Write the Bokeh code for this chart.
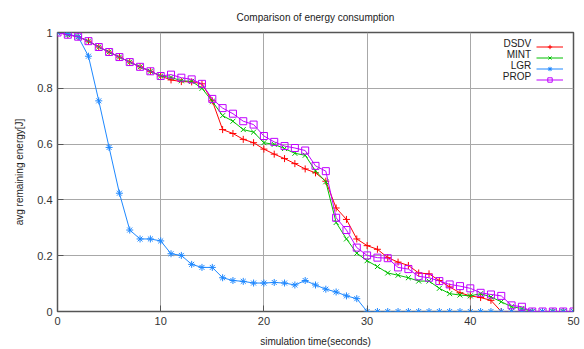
from bokeh.plotting import figure
from bokeh.models import (ColumnDataSource, Legend, LegendItem, Label, FixedTicker,
                          NumeralTickFormatter, Range1d)
from bokeh.embed import file_html
from bokeh.resources import INLINE

time_s = list(range(0, 51))

dsdv = [1.0, 0.992, 0.985, 0.969, 0.948, 0.930, 0.912, 0.894, 0.877, 0.861, 0.844,
        0.830, 0.824, 0.823, 0.816, 0.755, 0.652, 0.638, 0.617, 0.605, 0.582,
        0.564, 0.548, 0.530, 0.511, 0.497, 0.467, 0.371, 0.330, 0.260, 0.236,
        0.223, 0.193, 0.177, 0.165, 0.138, 0.135, 0.111, 0.088, 0.067, 0.056,
        0.050, 0.040, 0.0, 0.0, 0.0, 0.0, 0.0, 0.0, 0.0, 0.0]

mint = [1.0, 0.992, 0.985, 0.969, 0.948, 0.930, 0.912, 0.894, 0.877, 0.861, 0.844,
        0.839, 0.827, 0.825, 0.800, 0.753, 0.702, 0.682, 0.652, 0.643, 0.605,
        0.599, 0.584, 0.567, 0.560, 0.504, 0.465, 0.319, 0.260, 0.209, 0.182,
        0.161, 0.138, 0.130, 0.121, 0.109, 0.109, 0.083, 0.064, 0.059, 0.056,
        0.064, 0.052, 0.035, 0.017, 0.011, 0.0, 0.0, 0.0, 0.0, 0.0]

lgr = [1.0, 0.995, 0.985, 0.915, 0.755, 0.588, 0.424, 0.292, 0.260, 0.260, 0.253,
       0.207, 0.201, 0.169, 0.158, 0.158, 0.121, 0.111, 0.108, 0.102, 0.102,
       0.104, 0.102, 0.095, 0.111, 0.095, 0.080, 0.070, 0.056, 0.046, 0.0,
       0.0, 0.0, 0.0, 0.0, 0.0, 0.0, 0.0, 0.0, 0.0, 0.0,
       0.0, 0.0, 0.0, 0.0, 0.0, 0.0, 0.0, 0.0, 0.0, 0.0]

prop = [1.0, 0.992, 0.985, 0.969, 0.948, 0.930, 0.912, 0.894, 0.877, 0.861, 0.844,
        0.849, 0.838, 0.832, 0.816, 0.762, 0.729, 0.709, 0.682, 0.670, 0.629,
        0.608, 0.593, 0.586, 0.577, 0.522, 0.503, 0.336, 0.292, 0.229, 0.201,
        0.193, 0.191, 0.158, 0.152, 0.126, 0.121, 0.109, 0.097, 0.091, 0.083,
        0.067, 0.061, 0.056, 0.022, 0.017, 0.0, 0.0, 0.0, 0.0, 0.0]

series_names = ["DSDV", "MINT", "LGR", "PROP"]
series_values = [dsdv, mint, lgr, prop]
series_colors = ["#ff0000", "#00c000", "#1e88ff", "#c000ff"]
series_markers = ["cross", "x", "asterisk", "square"]

x_ticks = [0, 10, 20, 30, 40, 50]
y_ticks = [0, 0.2, 0.4, 0.6, 0.8, 1.0]

title_text = "Comparison of energy consumption"
x_label = "simulation time(seconds)"
y_label = "avg remaining energy[J]"

FONT = "Liberation Sans"

p = figure(width=584, height=349, output_backend="svg", toolbar_location=None,
           x_range=Range1d(0, 50), y_range=Range1d(0, 1),
           min_border_left=57, min_border_right=11, min_border_top=32,
           min_border_bottom=35, title=title_text)

p.title.align = "center"
p.title.text_font = FONT
p.title.text_font_size = "10px"
p.title.text_font_style = "normal"
p.title.text_color = "#222222"
p.title.standoff = 19

p.outline_line_color = "#555555"
p.outline_line_width = 1.5
p.background_fill_color = "white"
p.border_fill_color = "white"

for ax in p.axis:
    ax.axis_line_color = None
    ax.major_tick_in = 6
    ax.major_tick_out = 0
    ax.major_tick_line_color = "#555555"
    ax.minor_tick_line_color = None
    ax.major_label_text_font = FONT
    ax.major_label_text_font_size = "11px"
    ax.major_label_text_color = "#333333"
    ax.axis_label_text_font = FONT
    ax.axis_label_text_font_size = "10px"
    ax.axis_label_text_font_style = "normal"
    ax.axis_label_text_color = "#222222"

p.xaxis.ticker = FixedTicker(ticks=x_ticks)
p.yaxis.ticker = FixedTicker(ticks=y_ticks)
p.yaxis.formatter = NumeralTickFormatter(format="0[.]0")
p.xaxis.axis_label = x_label
p.yaxis.axis_label = y_label
p.xaxis.major_label_standoff = 5
p.xaxis.axis_label_standoff = 8
p.yaxis.major_label_standoff = 5
p.yaxis.axis_label_standoff = 9

p.xgrid.ticker = FixedTicker(ticks=x_ticks)
p.ygrid.ticker = FixedTicker(ticks=y_ticks)
p.grid.grid_line_color = "#a8a8a8"
p.grid.grid_line_width = 1

source = ColumnDataSource(dict(t=time_s, **{n: v for n, v in zip(series_names, series_values)}))

items = []
for name, color, marker in zip(series_names, series_colors, series_markers):
    ln = p.line("t", name, source=source, line_color=color, line_width=1)
    sc = p.scatter("t", name, source=source, marker=marker, size=7,
                   line_color=color, fill_color=None, line_width=1)
    items.append(LegendItem(label=" ", renderers=[ln, sc]))

# legend samples (line + marker), texts are added separately to their left
legend = Legend(items=items, location=(479, 226), orientation="vertical",
                glyph_width=27, glyph_height=11, spacing=0, padding=0, margin=0,
                label_standoff=0, label_width=1, label_height=11,
                label_text_font_size="1px", background_fill_alpha=0,
                border_line_color=None)
p.add_layout(legend, "center")

for i, name in enumerate(series_names):
    p.add_layout(Label(x=45.9, y=1 - (43.5 + 11 * i - 32) / 282,
                       text=name, text_align="right", text_baseline="middle",
                       text_font=FONT, text_font_size="10px", text_color="#222222"))

open("out.html", "w").write(file_html(p, INLINE))
